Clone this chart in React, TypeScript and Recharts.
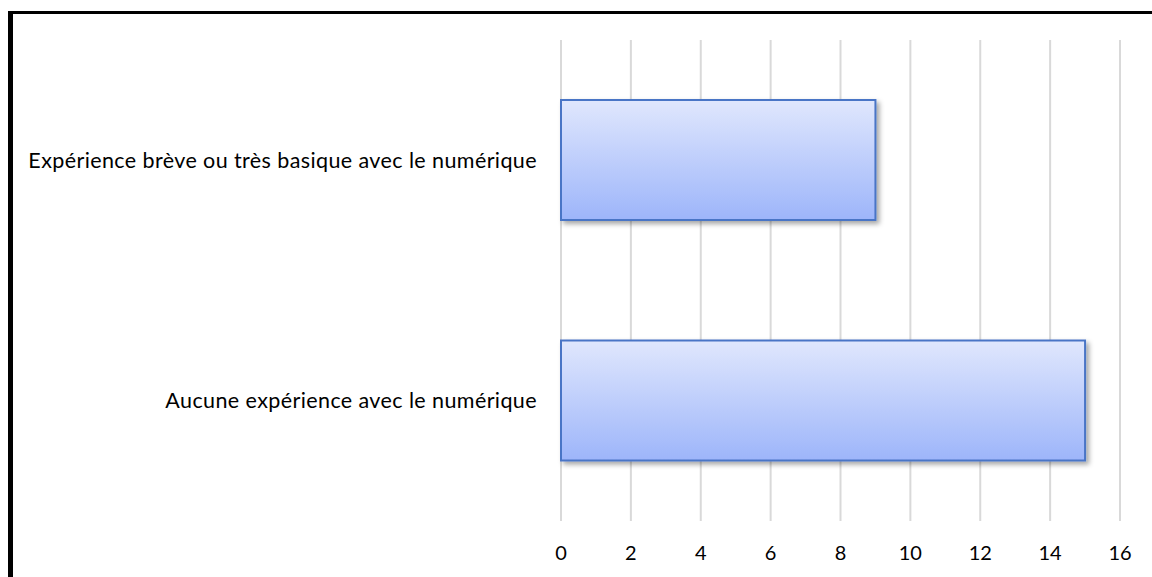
import { BarChart, Bar, XAxis, YAxis, CartesianGrid } from 'recharts';

// Categories top to bottom, with their counts
const categories = [
  'Expérience brève ou très basique avec le numérique',
  'Aucune expérience avec le numérique',
];
const counts = [9, 15];
const xTicks = [0, 2, 4, 6, 8, 10, 12, 14, 16];

const rows = categories.map((name, i) => ({ name, value: counts[i] }));

const FONT = 'Lato, "Open Sans", sans-serif';

export default function App() {
  return (
    <div
      style={{
        position: 'fixed',
        left: 0,
        top: 0,
        width: 1152,
        height: 577,
        background: '#fff',
        overflow: 'hidden',
      }}
    >
      {/* frame: thick left edge, thinner top edge */}
      <div
        style={{
          position: 'absolute',
          left: 8,
          top: 11,
          right: 0,
          bottom: 0,
          borderLeft: '5px solid #000',
          borderTop: '3px solid #000',
        }}
      />
      <div style={{ position: 'absolute', left: 0, top: 0 }}>
        <BarChart
          width={1152}
          height={577}
          data={rows}
          layout="vertical"
          margin={{ top: 40, right: 32, bottom: 0, left: 0 }}
          barCategoryGap={0}
        >
          <defs>
            <linearGradient id="barFill" x1="0" y1="0" x2="0" y2="1">
              <stop offset="0%" stopColor="#e0e7fd" />
              <stop offset="100%" stopColor="#9db5fa" />
            </linearGradient>
            <filter id="barShadow" x="-5%" y="-10%" width="115%" height="130%">
              <feDropShadow dx="3" dy="3" stdDeviation="2.5" floodColor="#000" floodOpacity="0.35" />
            </filter>
          </defs>
          <CartesianGrid horizontal={false} stroke="#d9d9d9" strokeWidth={2} />
          <XAxis
            type="number"
            domain={[0, 16]}
            ticks={xTicks}
            interval={0}
            axisLine={false}
            tickLine={false}
            height={56}
            tickMargin={19}
            tick={{ fill: '#000', fontSize: 20, fontFamily: FONT }}
          />
          <YAxis
            type="category"
            dataKey="name"
            width={561}
            axisLine={false}
            tickLine={false}
            tickMargin={18}
            tick={{ fill: '#000', fontSize: 21.5, fontFamily: FONT, letterSpacing: 0.4 }}
          />
          <Bar
            dataKey="value"
            barSize={120}
            fill="url(#barFill)"
            stroke="#4a74c6"
            strokeWidth={2}
            filter="url(#barShadow)"
            isAnimationActive={false}
          />
        </BarChart>
      </div>
    </div>
  );
}
